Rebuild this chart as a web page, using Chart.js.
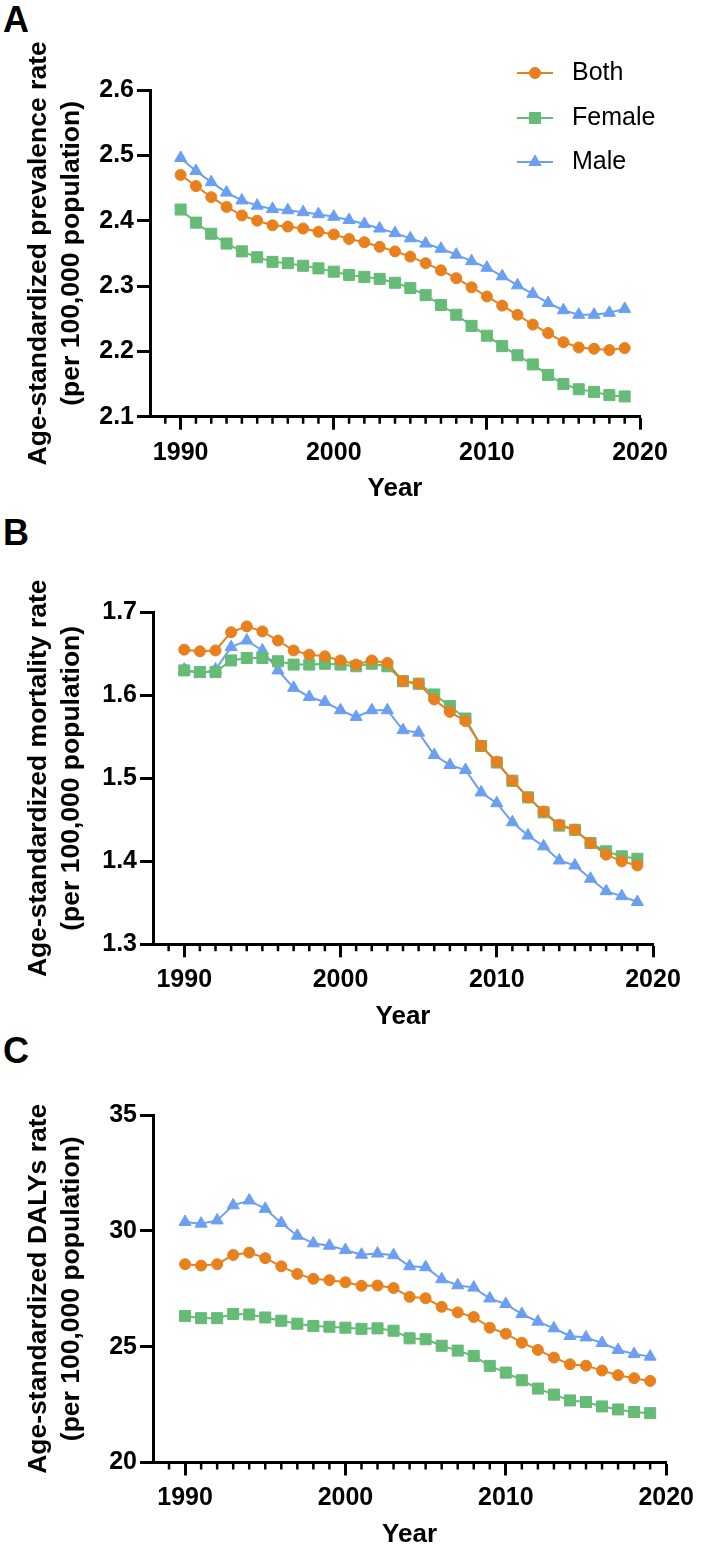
<!DOCTYPE html>
<html>
<head>
<meta charset="utf-8">
<script src="https://cdn.jsdelivr.net/npm/chart.js@4.4.0/dist/chart.umd.min.js"></script>
<style>
  html, body { margin: 0; padding: 0; background: #fff; overflow: hidden; }
  #page { position: relative; width: 702px; height: 1549px; }
  canvas { position: absolute; left: 0; }
  .tag { position: absolute; left: 3px; font: bold 36px/36px "Liberation Sans", Arial, sans-serif; color: #000; }
</style>
</head>
<body>
<div id="page">
  <div class="tag" style="top:2px">A</div>
  <div class="tag" style="top:515px">B</div>
  <div class="tag" style="top:1033px">C</div>
  <canvas id="prevalence" width="702" height="515"></canvas>
  <canvas id="mortality" width="702" height="540"></canvas>
  <canvas id="dalys" width="702" height="528"></canvas>
</div>
<script>
const years = [1990, 1991, 1992, 1993, 1994, 1995, 1996, 1997, 1998, 1999,
               2000, 2001, 2002, 2003, 2004, 2005, 2006, 2007, 2008, 2009,
               2010, 2011, 2012, 2013, 2014, 2015, 2016, 2017, 2018, 2019];
const seriesNames = ["Both", "Female", "Male"];

// A - prevalence
const prevBoth = [2.470, 2.453, 2.436, 2.421, 2.408, 2.400, 2.393, 2.391, 2.388, 2.383,
                  2.379, 2.372, 2.367, 2.360, 2.353, 2.345, 2.335, 2.324, 2.312, 2.298,
                  2.284, 2.270, 2.256, 2.241, 2.228, 2.214, 2.206, 2.204, 2.202, 2.205];
const prevFemale = [2.417, 2.397, 2.380, 2.365, 2.353, 2.344, 2.337, 2.335, 2.331, 2.327,
                    2.322, 2.317, 2.314, 2.311, 2.305, 2.297, 2.286, 2.271, 2.256, 2.239,
                    2.224, 2.208, 2.194, 2.180, 2.164, 2.150, 2.142, 2.138, 2.133, 2.131];
const prevMale = [2.496, 2.476, 2.459, 2.443, 2.431, 2.423, 2.418, 2.416, 2.413, 2.410,
                  2.406, 2.401, 2.395, 2.388, 2.381, 2.373, 2.365, 2.357, 2.348, 2.338,
                  2.328, 2.315, 2.301, 2.288, 2.274, 2.263, 2.256, 2.256, 2.259, 2.265];

// B - mortality
const mortBoth = [1.655, 1.653, 1.654, 1.676, 1.683, 1.677, 1.666, 1.654, 1.649, 1.647,
                  1.642, 1.637, 1.642, 1.639, 1.617, 1.614, 1.595, 1.580, 1.569, 1.539,
                  1.520, 1.497, 1.477, 1.460, 1.444, 1.438, 1.422, 1.408, 1.400, 1.395];
const mortFemale = [1.630, 1.628, 1.628, 1.642, 1.645, 1.645, 1.641, 1.637, 1.637, 1.638,
                    1.637, 1.635, 1.638, 1.635, 1.617, 1.614, 1.601, 1.587, 1.572, 1.539,
                    1.519, 1.497, 1.477, 1.459, 1.443, 1.438, 1.422, 1.412, 1.406, 1.403];
const mortMale = [1.631, 1.626, 1.631, 1.658, 1.666, 1.654, 1.630, 1.609, 1.598, 1.592,
                  1.582, 1.574, 1.582, 1.582, 1.558, 1.555, 1.528, 1.516, 1.510, 1.483,
                  1.470, 1.447, 1.431, 1.418, 1.401, 1.395, 1.379, 1.364, 1.358, 1.351];

// C - DALYs
const dalyBoth = [28.56, 28.50, 28.56, 28.96, 29.06, 28.82, 28.47, 28.14, 27.93, 27.87,
                  27.78, 27.63, 27.64, 27.53, 27.15, 27.09, 26.72, 26.48, 26.28, 25.82,
                  25.56, 25.17, 24.86, 24.53, 24.24, 24.18, 23.97, 23.77, 23.64, 23.52];
const dalyFemale = [26.32, 26.23, 26.23, 26.41, 26.39, 26.26, 26.12, 25.99, 25.89, 25.86,
                    25.82, 25.77, 25.79, 25.69, 25.36, 25.32, 25.04, 24.83, 24.60, 24.17,
                    23.88, 23.55, 23.19, 22.93, 22.68, 22.61, 22.42, 22.29, 22.18, 22.13];
const dalyMale = [30.38, 30.31, 30.45, 31.10, 31.31, 30.95, 30.34, 29.79, 29.46, 29.36,
                  29.17, 28.97, 29.02, 28.95, 28.47, 28.43, 27.91, 27.65, 27.55, 27.08,
                  26.84, 26.41, 26.08, 25.79, 25.46, 25.40, 25.16, 24.86, 24.68, 24.57];

const colours = ["#E8801E", "#66BB77", "#6B9FF2"];
const pointStyles = ["circle", "rect", "triangle"];
const pointSizes = [5.5, 7.8, 7];

Chart.defaults.font.family = '"Liberation Sans", Arial, sans-serif';
Chart.defaults.color = "#000";

// short yearly ticks between the labelled decades
const minorTicks = {
  id: "minorTicks",
  afterDraw(chart) {
    const xs = chart.scales.x;
    const y0 = chart.chartArea.bottom;
    const ctx = chart.ctx;
    ctx.save();
    ctx.strokeStyle = "#000";
    ctx.lineWidth = 2.5;
    ctx.beginPath();
    for (let v = xs.min + 1; v < xs.max; v++) {
      if (v % 10 === 0) continue;
      const px = xs.getPixelForValue(v);
      ctx.moveTo(px, y0);
      ctx.lineTo(px, y0 + 7);
    }
    ctx.stroke();
    ctx.restore();
  }
};

// legend in the top right corner of panel A
const sideLegend = {
  id: "sideLegend",
  afterDraw(chart) {
    const ctx = chart.ctx;
    const rows = [73, 118, 162];
    chart.data.datasets.forEach((ds, i) => {
      const y = rows[i];
      ctx.save();
      ctx.strokeStyle = ds.borderColor;
      ctx.fillStyle = ds.backgroundColor;
      ctx.lineWidth = 2;
      ctx.beginPath();
      ctx.moveTo(517, y);
      ctx.lineTo(553, y);
      ctx.stroke();
      ctx.lineWidth = 1;
      Chart.helpers.drawPoint(ctx, {pointStyle: ds.pointStyle, radius: ds.pointRadius, borderWidth: 1, rotation: 0}, 535, y);
      ctx.fillStyle = "#000";
      ctx.font = '25px "Liberation Sans", Arial, sans-serif';
      ctx.textBaseline = "middle";
      ctx.fillText(ds.label, 572, y);
      ctx.restore();
    });
  }
};

const panels = [
  {id: "prevalence", top: 0, left: 150, right: 640, areaTop: 90, areaBottom: 416.7,
   min: 2.1, max: 2.6, step: 0.1, digits: 1, legend: true,
   title: ["Age-standardized prevalence rate", "(per 100,000 population)"],
   series: [prevBoth, prevFemale, prevMale]},
  {id: "mortality", top: 500, left: 153, right: 653, areaTop: 112.3, areaBottom: 444.3,
   min: 1.3, max: 1.7, step: 0.1, digits: 1, legend: false,
   title: ["Age-standardized mortality rate", "(per 100,000 population)"],
   series: [mortBoth, mortFemale, mortMale]},
  {id: "dalys", top: 1030, left: 153, right: 672, areaTop: 85, areaBottom: 432.5,
   min: 20, max: 35, step: 5, digits: 0, legend: false,
   title: ["Age-standardized DALYs rate", "(per 100,000 population)"],
   series: [dalyBoth, dalyFemale, dalyMale]}
];

const xHeight = 88;

panels.forEach(p => {
  const canvas = document.getElementById(p.id);
  canvas.style.top = p.top + "px";
  new Chart(canvas, {
    type: "line",
    data: {
      datasets: seriesNames.map((name, i) => ({
        label: name,
        data: years.map((yr, j) => ({x: yr, y: p.series[i][j]})),
        borderColor: colours[i],
        backgroundColor: colours[i],
        pointStyle: pointStyles[i],
        pointRadius: pointSizes[i],
        pointBorderWidth: 1,
        borderWidth: 2,
        tension: 0
      }))
    },
    options: {
      responsive: false,
      animation: false,
      layout: {
        padding: {top: p.areaTop, left: 0, right: 702 - p.right,
                  bottom: canvas.height - p.areaBottom - xHeight}
      },
      plugins: {legend: {display: false}, tooltip: {enabled: false}},
      scales: {
        x: {
          type: "linear", min: 1988, max: 2020,
          afterFit: s => { s.height = xHeight; },
          border: {display: true, color: "#000", width: 3},
          grid: {
            drawOnChartArea: false, tickLength: 13, tickWidth: 3,
            tickColor: c => (c.tick && c.tick.value % 10 === 0) ? "#000" : "rgba(0,0,0,0)"
          },
          ticks: {
            stepSize: 1, autoSkip: false, maxRotation: 0, padding: 8,
            font: {size: 25, weight: "bold"},
            callback: v => v % 10 === 0 ? String(v) : ""
          },
          title: {display: true, text: "Year", font: {size: 26, weight: "bold"}, padding: 0}
        },
        y: {
          min: p.min, max: p.max,
          afterFit: s => { s.width = p.left; },
          border: {display: true, color: "#000", width: 3},
          grid: {drawOnChartArea: false, tickLength: 13, tickWidth: 3, tickColor: "#000"},
          ticks: {
            stepSize: p.step, padding: 3,
            font: {size: 25, weight: "bold"},
            callback: v => v.toFixed(p.digits)
          },
          title: {
            display: true, text: p.title,
            font: {size: 26.5, weight: "bold", lineHeight: 33 / 26.5},
            padding: {top: 22.5, bottom: 0}
          }
        }
      }
    },
    plugins: p.legend ? [minorTicks, sideLegend] : [minorTicks]
  });
});
</script>
</body>
</html>
